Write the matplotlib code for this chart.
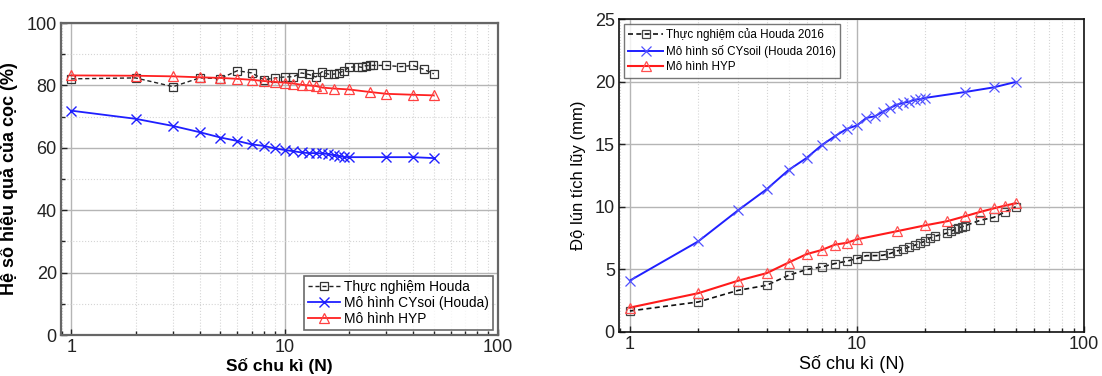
import matplotlib
matplotlib.use("Agg")
import matplotlib.pyplot as plt
from matplotlib.ticker import FixedLocator, NullFormatter, FuncFormatter, LogLocator

plt.rcParams['font.family'] = ['Liberation Sans', 'DejaVu Sans']

# ---------- Left chart data ----------
N_exp_L = [1, 2, 3, 4, 5, 6, 7, 8, 9, 10, 11, 12, 13, 14, 15, 16, 17, 18, 19, 20,
           22, 23, 24, 25, 26, 30, 35, 40, 45, 50]
eff_exp = [82.1, 82.4, 79.6, 82.4, 82.2, 84.7, 84.0, 81.8, 82.4, 82.7, 82.8, 84.0, 83.5, 82.7,
           84.4, 83.6, 83.6, 84.0, 84.7, 85.8, 86.0, 85.8, 86.3, 86.4, 86.4, 86.4, 86.0, 86.4, 85.1, 83.7]
N_cy_L = [1, 2, 3, 4, 5, 6, 7, 8, 9, 10, 11, 12, 13, 14, 15, 16, 17, 18, 19, 20, 30, 40, 50]
eff_cy = [71.9, 69.3, 67.0, 65.0, 63.3, 62.2, 61.1, 60.6, 59.8, 59.3, 58.9, 58.5, 58.3, 58.3,
          58.2, 58.0, 57.6, 57.3, 57.1, 57.0, 57.0, 57.0, 56.7]
N_hyp_L = [1, 2, 3, 4, 5, 6, 7, 8, 9, 10, 11, 12, 13, 14, 15, 17, 20, 25, 30, 40, 50]
eff_hyp = [83.2, 83.1, 82.9, 82.6, 82.4, 82.1, 81.8, 81.4, 81.1, 80.9, 80.6, 80.2, 80.0, 79.8,
           79.3, 79.0, 78.7, 77.9, 77.3, 77.0, 76.8]

# ---------- Right chart data ----------
N_exp_R = [1, 2, 3, 4, 5, 6, 7, 8, 9, 10, 11, 12, 13, 14, 15, 16, 17, 18, 19, 20, 21, 22,
           25, 26, 27, 28, 29, 30, 35, 40, 45, 50]
set_exp = [1.68, 2.4, 3.33, 3.73, 4.53, 4.99, 5.2, 5.47, 5.65, 5.87, 6.1, 6.1, 6.13, 6.27,
           6.48, 6.6, 6.8, 6.93, 7.12, 7.25, 7.52, 7.65, 7.9, 8.05, 8.2, 8.3, 8.4, 8.5,
           8.93, 9.15, 9.6, 10.0]
N_cy_R = [1, 2, 3, 4, 5, 6, 7, 8, 9, 10, 11, 12, 13, 14, 15, 16, 17, 18, 19, 20, 30, 40, 50]
set_cy = [4.11, 7.24, 9.73, 11.4, 12.94, 13.9, 14.93, 15.64, 16.22, 16.5, 17.1, 17.23, 17.6,
          17.9, 18.16, 18.3, 18.4, 18.56, 18.6, 18.7, 19.17, 19.54, 19.97]
N_hyp_R = [1, 2, 3, 4, 5, 6, 7, 8, 9, 10, 15, 20, 25, 30, 35, 40, 45, 50]
set_hyp = [1.95, 3.1, 4.1, 4.7, 5.55, 6.22, 6.55, 6.98, 7.12, 7.4, 8.05, 8.52, 8.85, 9.25,
           9.6, 9.87, 10.1, 10.28]

xticks = [1, 10, 100]
xlabel = "Số chu kì (N)"

fig = plt.figure(figsize=(11.02, 3.76), dpi=100)
axL = fig.add_axes([61/1102, 41/376, 437/1102, 312/376])
axR = fig.add_axes([619/1102, 44/376, 465/1102, 313/376])


def style_axis(ax, spine_color, spine_w, ymajor, yminor_grid):
    ax.set_xscale('log')
    ax.set_xlim(0.895, 100)
    ax.xaxis.set_major_locator(FixedLocator(xticks))
    ax.xaxis.set_major_formatter(FuncFormatter(lambda v, p: f"{int(v)}"))
    ax.xaxis.set_minor_locator(LogLocator(base=10, subs=range(2, 10)))
    ax.xaxis.set_minor_formatter(NullFormatter())
    ax.set_yticks(ymajor)
    ax.grid(True, which='major', color='#b5b5b5', linewidth=1.0, linestyle='-')
    ax.grid(True, which='minor', axis='x', color='#d5d5d5', linewidth=0.8, linestyle=':')
    if yminor_grid is not None:
        ax.yaxis.set_minor_locator(FixedLocator(yminor_grid))
        ax.grid(True, which='minor', axis='y', color='#d5d5d5', linewidth=0.8, linestyle=':')
    for s in ax.spines.values():
        s.set_color(spine_color)
        s.set_linewidth(spine_w)
    ax.tick_params(which='both', direction='in', labelsize=13, colors='#222222')
    ax.tick_params(which='major', length=4, width=1, pad=3)
    ax.tick_params(which='minor', length=3, width=1)
    ax.set_axisbelow(True)


# ---------- Left ----------
style_axis(axL, '#666666', 1.6, [0, 20, 40, 60, 80, 100], [10, 30, 50, 70, 90])
axL.set_ylim(0, 100)
axL.plot(N_exp_L, eff_exp, color='#222222', linestyle=(0, (3, 2)), linewidth=1.0,
         marker='s', markersize=5.5, markerfacecolor='none', markeredgecolor='#333333',
         markeredgewidth=0.9, label='Thực nghiệm Houda')
axL.plot(N_cy_L, eff_cy, color='#1f1fff', linewidth=1.3, marker='x', markersize=7,
         markeredgewidth=1.0, label='Mô hình CYsoi (Houda)')
axL.plot(N_hyp_L, eff_hyp, color='#ff2020', linewidth=1.3, marker='^', markersize=7.5,
         markerfacecolor='none', markeredgecolor='#ff4040', markeredgewidth=0.9,
         label='Mô hình HYP')
axL.set_xlabel(xlabel, fontsize=12.5, fontweight='bold', labelpad=1)
axL.set_ylabel("Hệ số hiệu quả của cọc (%)", fontsize=13, fontweight='bold', labelpad=6)
legL = axL.legend(loc='lower right', fontsize=9.9, frameon=True, fancybox=False,
                  edgecolor='#444444', handlelength=2.3, handletextpad=0.3,
                  borderpad=0.3, labelspacing=0.15, borderaxespad=0.35)
legL.get_frame().set_linewidth(1.2)

# ---------- Right ----------
style_axis(axR, '#111111', 1.2, [0, 5, 10, 15, 20, 25], None)
axR.set_ylim(0, 25)
axR.plot(N_exp_R, set_exp, color='#111111', linestyle=(0, (3, 2)), linewidth=1.2,
         marker='s', markersize=5.5, markerfacecolor='none', markeredgecolor='#444444',
         markeredgewidth=0.9, label='Thực nghiệm của Houda 2016')
axR.plot(N_cy_R, set_cy, color='#1f1fff', linewidth=1.4, marker='x', markersize=7,
         markeredgewidth=0.9, markeredgecolor='#5050ff', label='Mô hình số CYsoil (Houda 2016)')
axR.plot(N_hyp_R, set_hyp, color='#ff1a1a', linewidth=1.5, marker='^', markersize=7.5,
         markerfacecolor='none', markeredgecolor='#ff5050', markeredgewidth=0.9,
         label='Mô hình HYP')
axR.set_xlabel(xlabel, fontsize=13, labelpad=1)
axR.set_ylabel("Độ lún tích lũy (mm)", fontsize=12, labelpad=6)
legR = axR.legend(loc='upper left', fontsize=8.4, frameon=True, fancybox=False,
                  edgecolor='#555555', handlelength=3.0, handletextpad=0.2,
                  borderpad=0.4, labelspacing=0.3, borderaxespad=0.4)
legR.get_frame().set_linewidth(1.0)

fig.savefig("out.png", dpi=100)
